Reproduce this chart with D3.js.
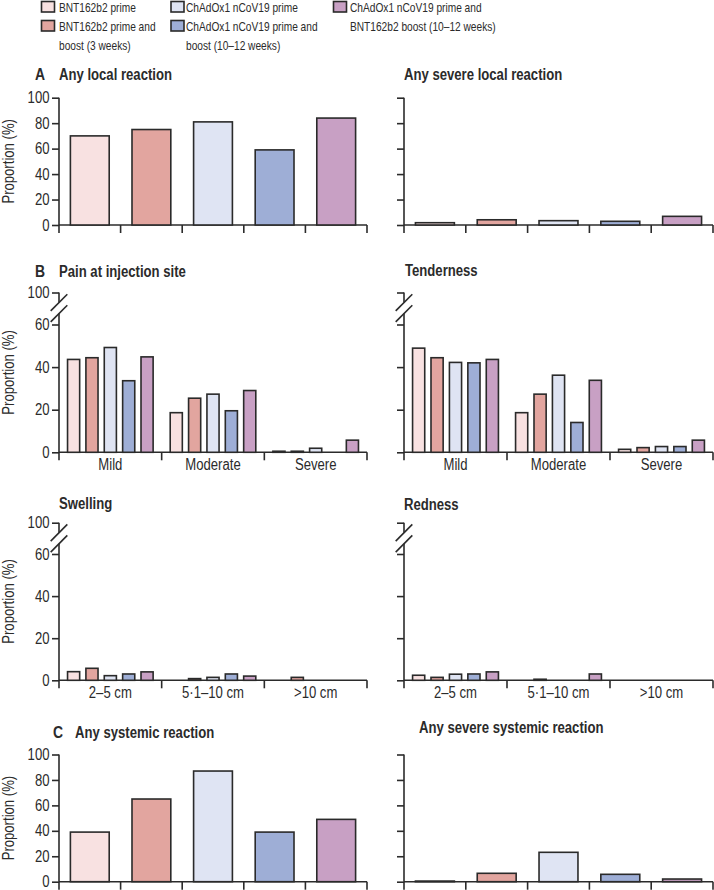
<!DOCTYPE html>
<html><head><meta charset="utf-8">
<script src="https://cdn.jsdelivr.net/npm/d3@7"></script>
<style>
body{margin:0;background:#fff}
svg{display:block}
text{font-family:"Liberation Sans",Arial,sans-serif;fill:#2b2b2b}
</style>
</head><body>
<svg id="c" width="714" height="890"></svg>
<script>
// ---------------- data ----------------
const seriesLabels = [
  "BNT162b2 prime",
  "BNT162b2 prime and boost (3 weeks)",
  "ChAdOx1 nCoV19 prime",
  "ChAdOx1 nCoV19 prime and boost (10–12 weeks)",
  "ChAdOx1 nCoV19 prime and BNT162b2 boost (10–12 weeks)"
];
const legendLines = [
  ["BNT162b2 prime"],
  ["BNT162b2 prime and", "boost (3 weeks)"],
  ["ChAdOx1 nCoV19 prime"],
  ["ChAdOx1 nCoV19 prime and", "boost (10–12 weeks)"],
  ["ChAdOx1 nCoV19 prime and", "BNT162b2 boost (10–12 weeks)"]
];
const seriesColors = ["#f8e1e1", "#e2a59f", "#dfe4f3", "#9eaed6", "#c8a0c4"];

const anyLocal = [70, 75, 81, 59, 84];
const anySevereLocal = [1.8, 4.1, 3.4, 2.9, 6.8];

const severityCats = ["Mild", "Moderate", "Severe"];
const painValues = [
  [43.6, 44.4, 49.2, 33.6, 44.8],
  [18.6, 25.4, 27.3, 19.5, 29.0],
  [0.5, 0.5, 1.9, 0, 5.7]
];
const tendernessValues = [
  [48.9, 44.4, 42.2, 42.0, 43.6],
  [18.6, 27.3, 36.2, 14.0, 33.8],
  [1.4, 2.2, 2.7, 2.7, 5.7]
];

const sizeCats = ["2–5 cm", "5·1–10 cm", ">10 cm"];
const swellingValues = [
  [4.1, 5.7, 2.2, 3.0, 4.0],
  [0, 0.8, 1.4, 3.0, 2.0],
  [0, 1.4, 0, 0, 0]
];
const rednessValues = [
  [2.4, 1.4, 2.9, 3.0, 4.0],
  [0, 0.5, 0, 0, 3.0],
  [0, 0, 0, 0, 0]
];

const anySystemic = [39, 65, 87, 39, 49];
const anySevereSystemic = [0.5, 6.6, 23.1, 5.8, 2.1];

const fullTicks = [0, 20, 40, 60, 80, 100];
const brokenTicks = [0, 20, 40, 60, 100];
const yLabel = "Proportion (%)";

// ---------------- drawing ----------------
const svg = d3.select("#c");
const ink = "#2b2b2b";
const barStroke = "#2a2a2a";
const condense = 0.82;

// legend
const legendCols = [
  {sx: 41.5, tx: 59, items: [0, 1]},
  {sx: 171, tx: 186, items: [2, 3]},
  {sx: 333.5, tx: 350, items: [4]}
];
legendCols.forEach(col => {
  let row = 0;
  col.items.forEach(i => {
    const g = svg.append("g");
    g.append("rect").attr("x", col.sx).attr("y", 1.5 + row * 19)
      .attr("width", 13).attr("height", 10.5)
      .attr("fill", seriesColors[i]).attr("stroke", barStroke).attr("stroke-width", 1.6);
    legendLines[i].forEach((ln, k) => {
      g.append("text").attr("x", col.tx).attr("y", 11.8 + (row + k) * 19)
        .attr("font-size", 12.4).text(ln);
    });
    row += legendLines[i].length;
  });
});

function styleAxis(g) {
  g.selectAll("line").attr("stroke", ink).attr("stroke-width", 1.6);
  g.selectAll("path").attr("stroke", ink).attr("stroke-width", 1.6);
  g.selectAll("text").attr("font-size", 16).attr("fill", ink);
}

function drawPanel(o) {
  const g = svg.append("g");
  const [xa, xb] = o.xRange;
  let y;
  if (o.broken) {
    y = d3.scaleLinear().domain([0, 60, 100]).range([o.y0, o.y60, o.y100]);
  } else {
    y = d3.scaleLinear().domain([0, 100]).range([o.y0, o.y100]);
  }
  const yAxis = d3.axisLeft(y).tickValues(o.broken ? brokenTicks : fullTicks)
    .tickSize(7).tickPadding(2.5);
  if (!o.showLabels) yAxis.tickFormat("");
  const ya = g.append("g").attr("transform", `translate(${xa},0)`).call(yAxis);
  ya.select(".domain").remove();
  styleAxis(ya);
  if (o.broken) {
    const t = y(100);
    g.append("line").attr("x1", xa).attr("x2", xa).attr("y1", t).attr("y2", t + 10)
      .attr("stroke", ink).attr("stroke-width", 1.6);
    g.append("line").attr("x1", xa).attr("x2", xa).attr("y1", t + 21).attr("y2", o.y0)
      .attr("stroke", ink).attr("stroke-width", 1.6);
    [1.7, 12.7].forEach(d => {
      g.append("line").attr("x1", xa + 8.3).attr("y1", t + d)
        .attr("x2", xa - 8.3).attr("y2", t + d + 16.7)
        .attr("stroke", ink).attr("stroke-width", 1.6);
    });
  } else {
    g.append("line").attr("x1", xa).attr("x2", xa).attr("y1", y(100)).attr("y2", o.y0)
      .attr("stroke", ink).attr("stroke-width", 1.6);
  }
  if (o.showLabels) {
    const yc = (y(100) + o.y0) / 2;
    g.append("text").attr("transform", `translate(13.5,${yc}) rotate(-90)`)
      .attr("text-anchor", "middle").attr("font-size", 16).text(yLabel);
  }

  g.append("line").attr("x1", xa).attr("x2", xb).attr("y1", o.y0).attr("y2", o.y0)
    .attr("stroke", ink).attr("stroke-width", 1.6);

  if (!o.cats) {
    const x = d3.scaleBand().domain(seriesLabels).range([xa, xb])
      .paddingInner(0.37).paddingOuter(0.185);
    const bounds = d3.range(seriesLabels.length + 1).map(i => xa + i * x.step());
    g.selectAll(".tk").data(bounds).join("line")
      .attr("x1", d => d).attr("x2", d => d).attr("y1", o.y0).attr("y2", o.y0 + 8)
      .attr("stroke", ink).attr("stroke-width", 1.6);
    g.selectAll(".bar").data(o.values.map((v, i) => ({v, i}))).join("rect")
      .attr("x", d => x(seriesLabels[d.i])).attr("width", x.bandwidth())
      .attr("y", d => y(d.v)).attr("height", d => o.y0 - y(d.v))
      .attr("fill", d => seriesColors[d.i]).attr("stroke", barStroke).attr("stroke-width", 1.6);
  } else {
    const x0 = d3.scaleBand().domain(o.cats).range([xa, xb]).padding(0);
    const x1 = d3.scaleBand().domain(seriesLabels).range([0, x0.bandwidth()])
      .paddingInner(0.34).paddingOuter(0.465);
    const bounds = d3.range(o.cats.length + 1).map(i => xa + i * x0.step());
    g.selectAll(".tk").data(bounds).join("line")
      .attr("x1", d => d).attr("x2", d => d).attr("y1", o.y0).attr("y2", o.y0 + 8)
      .attr("stroke", ink).attr("stroke-width", 1.6);
    const xl = g.append("g").attr("transform", `translate(0,${o.y0})`)
      .call(d3.axisBottom(x0).tickSize(0).tickPadding(6));
    xl.select(".domain").remove();
    styleAxis(xl);
    const data = [];
    o.values.forEach((arr, ci) => arr.forEach((v, i) => { if (v > 0) data.push({c: o.cats[ci], i, v}); }));
    g.selectAll(".bar").data(data).join("rect")
      .attr("x", d => x0(d.c) + x1(seriesLabels[d.i])).attr("width", x1.bandwidth())
      .attr("y", d => y(d.v)).attr("height", d => o.y0 - y(d.v))
      .attr("fill", d => seriesColors[d.i]).attr("stroke", barStroke).attr("stroke-width", 1.6);
  }

  if (o.letter) {
    g.append("text").attr("x", o.letterX).attr("y", o.titleY)
      .attr("font-size", 17).attr("font-weight", "bold").text(o.letter);
  }
  g.append("text").attr("x", o.titleX).attr("y", o.titleY)
    .attr("font-size", 16).attr("font-weight", "bold").text(o.title);
}

const L = [59, 367], R = [404, 713];

drawPanel({xRange: L, y0: 225, y100: 97.7, values: anyLocal, showLabels: true,
  title: "Any local reaction", letter: "A", letterX: 35, titleX: 59, titleY: 80});
drawPanel({xRange: R, y0: 225, y100: 97.7, values: anySevereLocal, showLabels: false,
  title: "Any severe local reaction", titleX: 404, titleY: 80});

drawPanel({xRange: L, broken: true, y0: 452.3, y60: 324.5, y100: 292.5, cats: severityCats,
  values: painValues, showLabels: true, title: "Pain at injection site", letter: "B",
  letterX: 35, titleX: 59, titleY: 277});
drawPanel({xRange: R, broken: true, y0: 452.3, y60: 324.5, y100: 292.5, cats: severityCats,
  values: tendernessValues, showLabels: false, title: "Tenderness", titleX: 405, titleY: 276});

drawPanel({xRange: L, broken: true, y0: 680.3, y60: 554, y100: 522.7, cats: sizeCats,
  values: swellingValues, showLabels: true, title: "Swelling", titleX: 59, titleY: 509});
drawPanel({xRange: R, broken: true, y0: 680.3, y60: 554, y100: 522.7, cats: sizeCats,
  values: rednessValues, showLabels: false, title: "Redness", titleX: 404, titleY: 510});

drawPanel({xRange: L, y0: 881.7, y100: 754.5, values: anySystemic, showLabels: true,
  title: "Any systemic reaction", letter: "C", letterX: 53, titleX: 75, titleY: 737.5});
drawPanel({xRange: R, y0: 881.7, y100: 754.5, values: anySevereSystemic, showLabels: false,
  title: "Any severe systemic reaction", titleX: 419, titleY: 733});

// narrow the glyphs horizontally to match the condensed typeface of the original
svg.selectAll("text").each(function () {
  const t = d3.select(this);
  const x = +t.attr("x") || 0, y = +t.attr("y") || 0;
  const tr = t.attr("transform") || "";
  t.attr("x", 0).attr("y", 0)
    .attr("transform", `${tr} translate(${x},${y}) scale(${condense},1)`);
});
</script>
</body></html>
